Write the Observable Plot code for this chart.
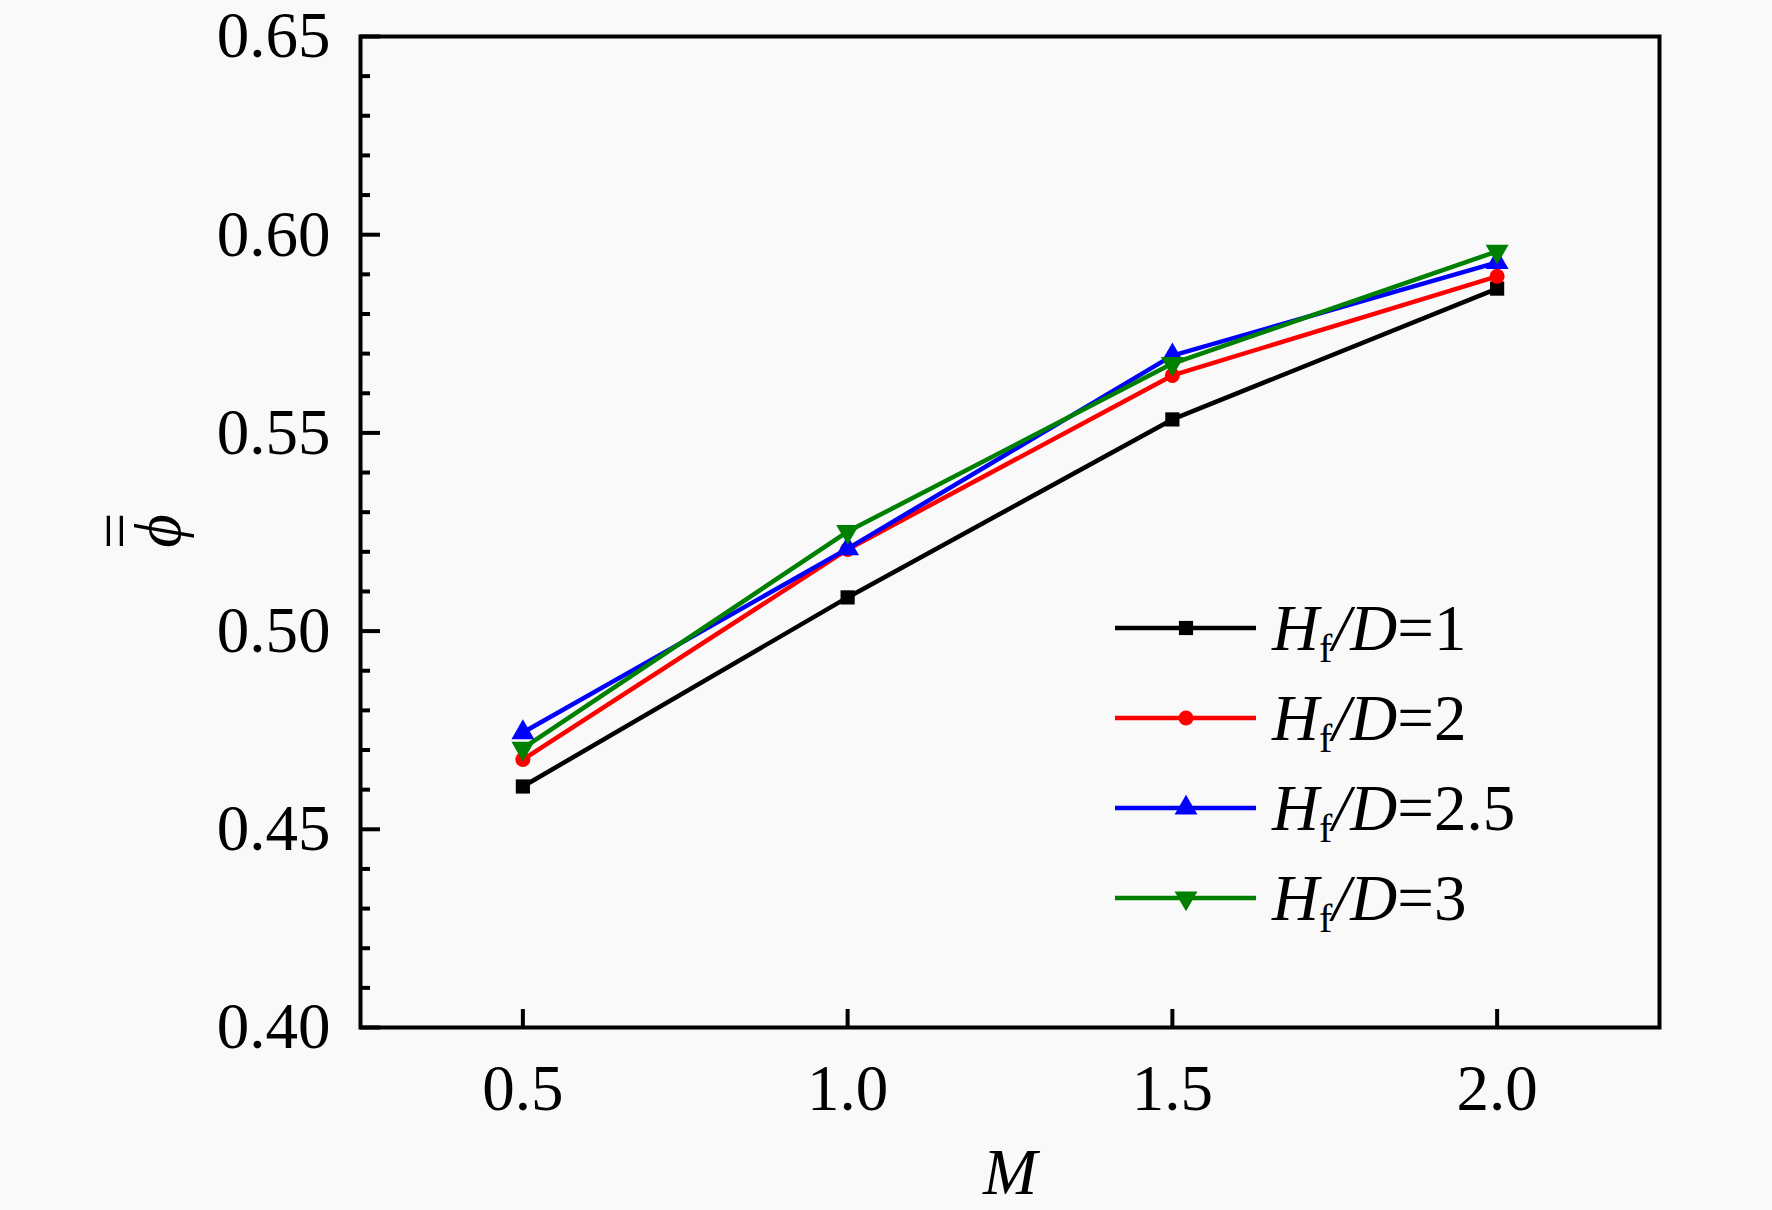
<!DOCTYPE html>
<html><head><meta charset="utf-8">
<script src="https://cdn.jsdelivr.net/npm/d3@7"></script>
<script src="https://cdn.jsdelivr.net/npm/@observablehq/plot@0.6"></script>
<style>html,body{margin:0;padding:0;background:#f9f9f9;} svg{display:block}</style>
</head><body><div id="chart"></div>
<script>
// ---- data ----
const M = [0.5, 1.0, 1.5, 2.0];
const phi_HfD1 = [0.4608, 0.5085, 0.5534, 0.5864];
const phi_HfD2 = [0.4676, 0.5206, 0.5645, 0.5895];
const phi_HfD25 = [0.4744, 0.5208, 0.5695, 0.5930];
const phi_HfD3 = [0.4704, 0.5251, 0.5675, 0.5958];
const ratioLabels = ["1", "2", "2.5", "3"];
const seriesValues = [phi_HfD1, phi_HfD2, phi_HfD25, phi_HfD3];
const colors = ["#000000", "#ff0000", "#0000ff", "#008000"];
const symbols = ["square", "circle", "triangle", "triangle"];
const symbolRotate = [0, 0, 0, 180];
const symbolR = [8, 7.5, 8.5, 8.5];
const xTicks = [0.5, 1.0, 1.5, 2.0];
const yTicks = [0.40, 0.45, 0.50, 0.55, 0.60, 0.65];
const yMinorTicks = [0.41,0.42,0.43,0.44,0.46,0.47,0.48,0.49,0.51,0.52,0.53,0.54,0.56,0.57,0.58,0.59,0.61,0.62,0.63,0.64];

const FONT = "Liberation Serif";
const FS = 65;

const marks = [];
marks.push(Plot.axisY({ticks: yMinorTicks, tickSize: -10, tickFormat: () => "", strokeWidth: 4, label: null}));
marks.push(Plot.axisY({ticks: yTicks, tickSize: -20, tickFormat: () => "", strokeWidth: 4, label: null}));
marks.push(Plot.axisY({ticks: yTicks, tickSize: 0, tickPadding: 30, tickFormat: d3.format(".2f"), fontSize: FS, label: null}));
marks.push(Plot.axisX({ticks: xTicks, tickSize: -18, tickFormat: () => "", strokeWidth: 4, label: null}));
marks.push(Plot.axisX({ticks: xTicks, tickSize: 0, tickPadding: 36, tickFormat: d3.format(".1f"), fontSize: FS, label: null}));

seriesValues.forEach((vals, s) => {
  const data = M.map((m, i) => ({M: m, phi: vals[i]}));
  marks.push(Plot.line(data, {x: "M", y: "phi", stroke: colors[s], strokeWidth: 4.5}));
  marks.push(Plot.dot(data, {x: "M", y: "phi", symbol: symbols[s], r: symbolR[s], fill: colors[s], stroke: "none", rotate: symbolRotate[s]}));
});
marks.push(Plot.frame({stroke: "#000", strokeWidth: 4}));

const chart = Plot.plot({
  width: 1772,
  height: 1210,
  marginLeft: 360,
  marginRight: 113,
  marginTop: 36,
  marginBottom: 183,
  x: {domain: [0.25, 2.25]},
  y: {domain: [0.40, 0.65]},
  style: {fontFamily: FONT, fontSize: FS + "px", background: "#f9f9f9", color: "#000"},
  marks
});
document.getElementById("chart").appendChild(chart);

// ---- annotations: axis titles and legend ----
const svg = d3.select(chart);
// x title
svg.append("text").attr("x", 1010).attr("y", 1194).attr("text-anchor", "middle")
  .attr("font-family", FONT).attr("font-size", FS).attr("font-style", "italic").attr("fill", "#000").text("M");
// y title: phi with double bar
const yt = svg.append("g").attr("transform", "translate(158,531) rotate(-90)")
  .attr("font-family", FONT).attr("font-size", FS).attr("fill", "#000");
yt.append("text").attr("x", 0).attr("y", 0).attr("text-anchor", "middle").attr("dominant-baseline", "central")
  .attr("font-style", "italic").text("ϕ");
yt.append("text").attr("x", 0).attr("y", -43).attr("text-anchor", "middle").attr("dominant-baseline", "central")
  .text("=");

// legend
const legendRowsY = [628, 718, 808, 898];
const symMap = {square: d3.symbolSquare, circle: d3.symbolCircle, triangle: d3.symbolTriangle};
seriesValues.forEach((vals, s) => {
  const y = legendRowsY[s];
  const g = svg.append("g");
  g.append("line").attr("x1", 1115).attr("x2", 1256).attr("y1", y).attr("y2", y)
    .attr("stroke", colors[s]).attr("stroke-width", 4.5);
  g.append("path").attr("d", d3.symbol(symMap[symbols[s]], Math.PI * symbolR[s] * symbolR[s])())
    .attr("transform", `translate(1186,${y}) rotate(${symbolRotate[s]})`).attr("fill", colors[s]);
  const t = g.append("text").attr("x", 1272).attr("y", y + 22).attr("text-anchor", "start")
    .attr("font-family", FONT).attr("font-size", FS).attr("fill", "#000");
  t.append("tspan").attr("font-style", "italic").text("H");
  t.append("tspan").attr("font-size", 40).attr("dy", 12).text("f");
  t.append("tspan").attr("dy", -12).attr("font-style", "italic").text("/D");
  t.append("tspan").text("=" + ratioLabels[s]);
});
</script>
</body></html>
